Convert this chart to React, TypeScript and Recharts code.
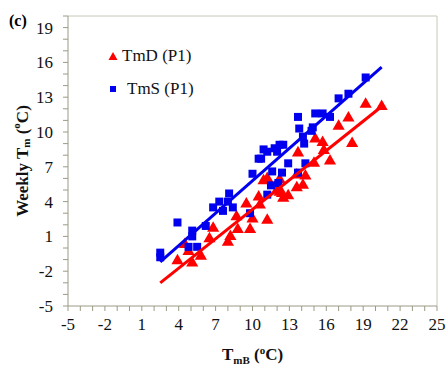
import { ComposedChart, Scatter, XAxis, YAxis, ReferenceLine } from 'recharts';

// weekly mean temperature, drained plot (TmD) vs base temperature TmB
const tmdX = [3.9, 5.1, 4.8, 4.5, 5.8, 6.5, 6.8, 8.0, 8.2, 8.8, 8.7, 9.5, 9.8, 10.0, 10.5, 10.6, 11.2, 10.9, 11.2, 12.0, 12.2, 12.4, 12.5, 12.9, 12.2, 13.6, 14.1, 13.6, 14.3, 13.7, 15.0, 15.1, 15.7, 15.8, 16.3, 17.0, 17.8, 18.1, 19.2, 20.5];
const tmdY = [-1.1, -1.3, -0.3, 0.3, -0.7, 0.8, 1.7, 0.5, 1.0, 1.6, 2.7, 3.8, 1.6, 2.5, 4.4, 3.7, 2.4, 5.8, 6.0, 5.0, 4.8, 4.7, 4.3, 4.5, 5.9, 5.2, 5.4, 6.3, 6.2, 8.2, 7.3, 9.4, 9.1, 8.4, 7.5, 10.5, 11.2, 9.0, 12.4, 12.2];

// weekly mean temperature, shaded plot (TmS)
const tmsX = [2.5, 2.5, 3.9, 5.1, 5.1, 4.8, 5.5, 6.2, 6.8, 7.3, 7.6, 8.1, 8.0, 8.4, 9.8, 10.0, 10.5, 11.5, 11.2, 12.1, 11.6, 10.9, 11.2, 10.7, 11.8, 12.0, 12.2, 12.5, 12.9, 13.7, 14.3, 14.1, 14.2, 13.8, 13.7, 14.8, 14.9, 15.1, 15.7, 16.3, 17.0, 17.8, 19.2, 12.4];
const tmsY = [-0.4, -0.8, 2.2, 1.5, 1.0, 0.1, 0.1, 1.9, 3.5, 4.0, 3.2, 4.7, 4.0, 3.5, 3.0, 6.4, 7.7, 5.4, 4.6, 5.6, 6.6, 8.5, 8.3, 7.7, 8.6, 8.3, 8.9, 8.9, 7.3, 6.5, 7.3, 9.6, 9.0, 10.3, 11.3, 10.1, 10.4, 11.6, 11.6, 11.3, 12.9, 13.3, 14.7, 6.5];

// fitted lines (end points)
const fitX = [2.5, 20.5];
const tmdFitY = [-3.0, 12.2];
const tmsFitY = [-1.2, 15.6];

const TICK_LABELS = ['-5', '-2', '1', '4', '7', '10', '13', '16', '19', '22', '25'];

const tmdData = tmdX.map((x, i) => ({ x, y: tmdY[i] }));
const tmsData = tmsX.map((x, i) => ({ x, y: tmsY[i] }));
const tmdFit = fitX.map((x, i) => ({ x, y: tmdFitY[i] }));
const tmsFit = fitX.map((x, i) => ({ x, y: tmsFitY[i] }));

const xTicks = Array.from({ length: 31 }, (_, i) => i - 5);
const yTicks = Array.from({ length: 26 }, (_, i) => i - 5);
const fmt = (v: number) => (TICK_LABELS.includes(String(v)) ? String(v) : '');

const SERIF = '"Times New Roman", "Liberation Serif", serif';
const AXIS = '#9c9a86';
const RED = '#ff0000';
const BLUE = '#0000ee';

function LegendBox() {
  return (
    <div style={{ position: 'absolute', left: 108, top: 39, fontFamily: SERIF, fontSize: 17, color: '#111', lineHeight: '33px' }}>
      <div style={{ display: 'flex', alignItems: 'center' }}>
        <svg width={10} height={10}><polygon points="5,1 9.5,9 0.5,9" fill={RED} /></svg>
        <span style={{ marginLeft: 4 }}>TmD (P1)</span>
      </div>
      <div style={{ display: 'flex', alignItems: 'center' }}>
        <svg width={10} height={10}><rect x={2} y={2} width={6} height={6} fill={BLUE} /></svg>
        <span style={{ marginLeft: 9 }}>TmS (P1)</span>
      </div>
    </div>
  );
}

export default function App() {
  return (
    <div style={{ position: 'relative', width: 446, height: 365, overflow: 'hidden' }}>
      {/* the figure uses the whole window, so drop the default body margin */}
      <style>{'body{margin:0}'}</style>
      <div style={{ position: 'absolute', left: 9, top: 12, fontFamily: SERIF, fontWeight: 'bold', fontSize: 16 }}>(c)</div>
      <ComposedChart width={446} height={365} margin={{ top: 16, right: 9, bottom: 0, left: 0 }}>
        <XAxis
          type="number"
          dataKey="x"
          domain={[-5, 25]}
          ticks={xTicks}
          tickFormatter={fmt}
          interval={0}
          height={59}
          stroke={AXIS}
          tickSize={5}
          tickMargin={7}
          tick={{ fill: '#111', fontFamily: SERIF, fontSize: 17 }}
          label={({ viewBox }: any) => (
            <text x={viewBox.x + viewBox.width / 2} y={viewBox.y + 54} textAnchor="middle" fontFamily={SERIF} fontWeight="bold" fontSize={17} fill="#111">
              T<tspan fontSize={11} dy={4}>mB</tspan><tspan dy={-4}>{'  ('}</tspan><tspan fontSize={11} dy={-6}>o</tspan><tspan dy={6}>C)</tspan>
            </text>
          )}
        />
        <YAxis
          type="number"
          dataKey="y"
          domain={[-5, 20]}
          ticks={yTicks}
          tickFormatter={fmt}
          interval={0}
          width={68}
          stroke={AXIS}
          tickSize={5}
          tickMargin={10}
          tick={{ fill: '#111', fontFamily: SERIF, fontSize: 17 }}
          label={({ viewBox }: any) => {
            const cx = 22;
            const cy = viewBox.y + viewBox.height / 2;
            return (
              <text x={cx} y={cy} transform={`rotate(-90 ${cx} ${cy})`} textAnchor="middle" dominantBaseline="central" fontFamily={SERIF} fontWeight="bold" fontSize={17} fill="#111">
                Weekly T<tspan fontSize={11} dy={4}>m</tspan><tspan dy={-4}>{' ('}</tspan><tspan fontSize={11} dy={-6}>o</tspan><tspan dy={6}>C)</tspan>
              </text>
            );
          }}
        />
        <ReferenceLine y={20} stroke="#c8c6b8" />
        <ReferenceLine x={25} stroke="#c8c6b8" />
        <Scatter name="TmD (P1)" data={tmdData} fill={RED} shape="triangle" isAnimationActive={false} />
        <Scatter name="TmS (P1)" data={tmsData} fill={BLUE} shape="square" isAnimationActive={false} />
        <Scatter data={tmdFit} line={{ stroke: RED, strokeWidth: 3 }} shape={() => null} isAnimationActive={false} />
        <Scatter data={tmsFit} line={{ stroke: BLUE, strokeWidth: 3 }} shape={() => null} isAnimationActive={false} />
      </ComposedChart>
      <LegendBox />
    </div>
  );
}
